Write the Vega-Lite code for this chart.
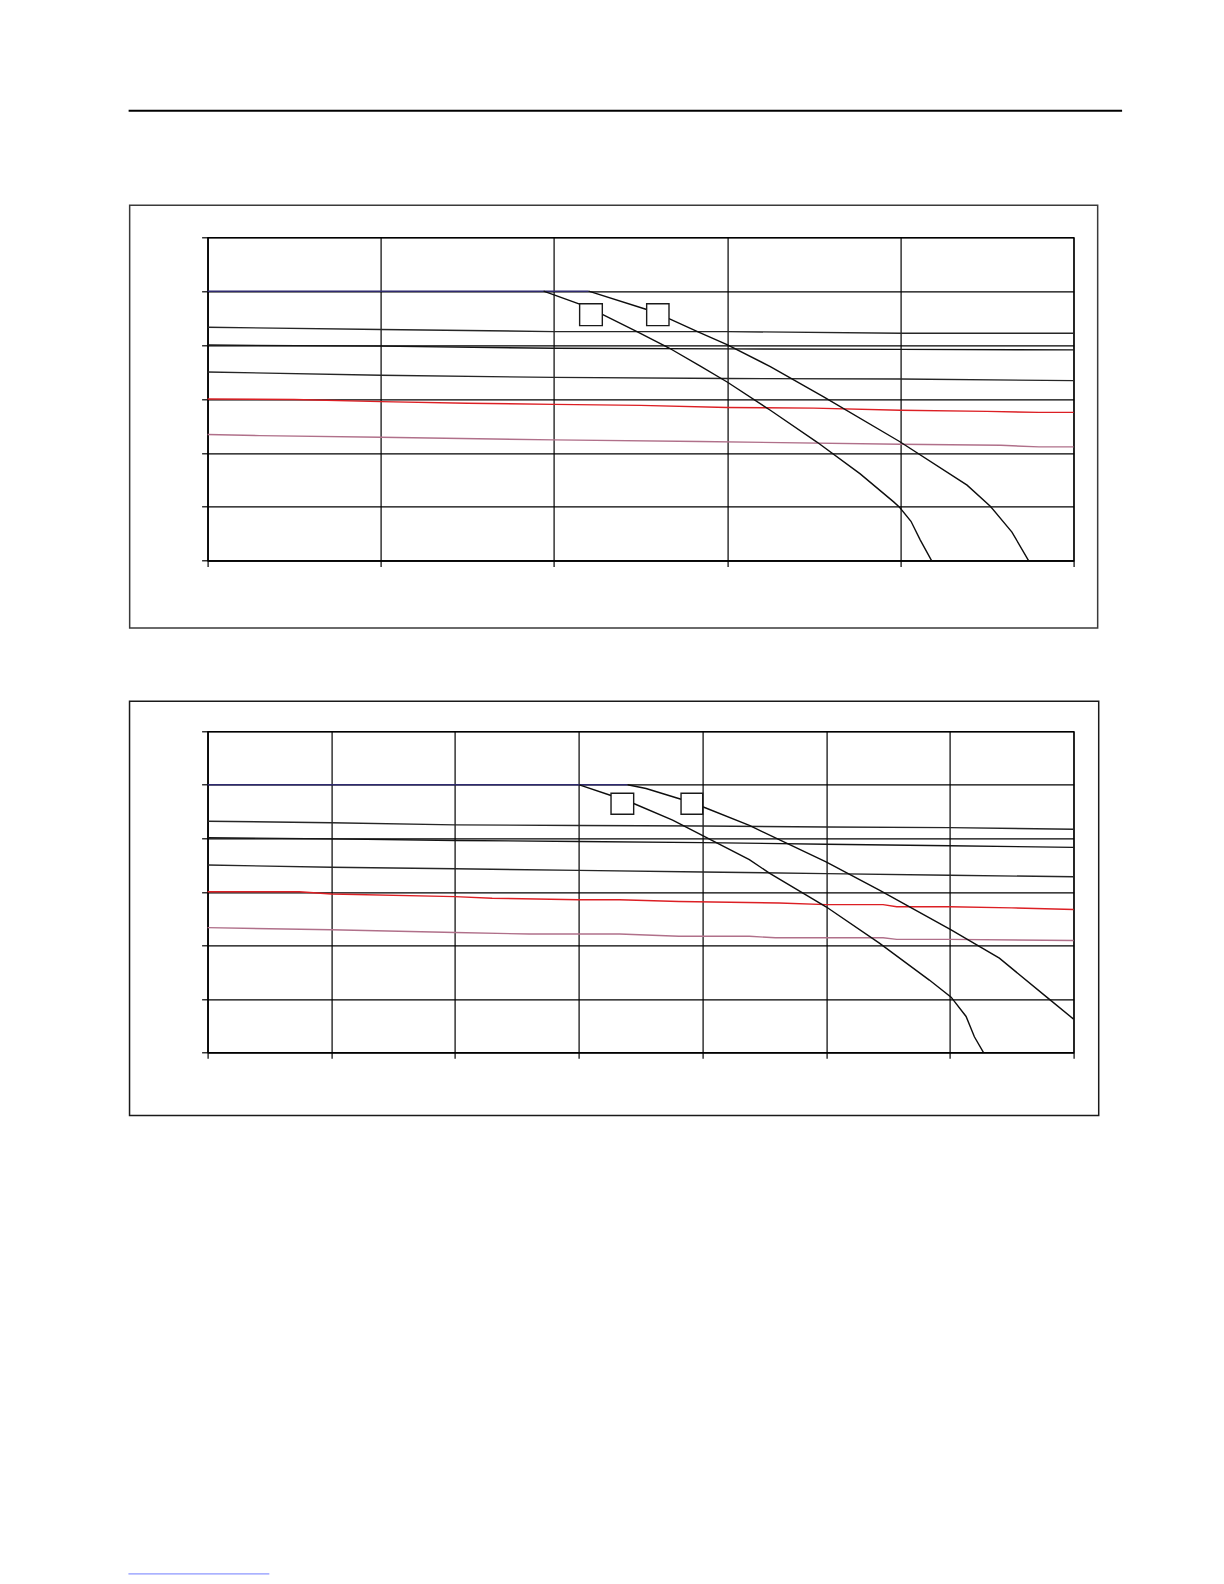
{
  "$schema": "https://vega.github.io/schema/vega-lite/v6.json",
  "background": "white",
  "padding": {"left": 126.6, "top": 108.3, "right": 0, "bottom": 0},
  "spacing": 69,
  "datasets": {
    "one": [{"k": 1}],
    "c1": [
      {"series": "L1", "x": 0, "y": 4.33}, {"series": "L1", "x": 1, "y": 4.29}, {"series": "L1", "x": 2, "y": 4.25}, {"series": "L1", "x": 3, "y": 4.25}, {"series": "L1", "x": 4, "y": 4.22}, {"series": "L1", "x": 5, "y": 4.22},
      {"series": "L2", "x": 0, "y": 4.0}, {"series": "L2", "x": 1, "y": 3.98}, {"series": "L2", "x": 2, "y": 3.94}, {"series": "L2", "x": 3, "y": 3.93}, {"series": "L2", "x": 4, "y": 3.92}, {"series": "L2", "x": 5, "y": 3.91},
      {"series": "L3", "x": 0, "y": 3.5}, {"series": "L3", "x": 1, "y": 3.44}, {"series": "L3", "x": 2, "y": 3.4}, {"series": "L3", "x": 3, "y": 3.38}, {"series": "L3", "x": 4, "y": 3.37}, {"series": "L3", "x": 5, "y": 3.34},
      {"series": "Red", "x": 0, "y": 3.0}, {"series": "Red", "x": 0.5, "y": 2.99}, {"series": "Red", "x": 1, "y": 2.95}, {"series": "Red", "x": 1.5, "y": 2.92}, {"series": "Red", "x": 2, "y": 2.9}, {"series": "Red", "x": 2.5, "y": 2.88}, {"series": "Red", "x": 3, "y": 2.84}, {"series": "Red", "x": 3.5, "y": 2.83}, {"series": "Red", "x": 4, "y": 2.79}, {"series": "Red", "x": 4.5, "y": 2.77}, {"series": "Red", "x": 4.8, "y": 2.75}, {"series": "Red", "x": 5, "y": 2.75},
      {"series": "Pink", "x": 0, "y": 2.34}, {"series": "Pink", "x": 0.3, "y": 2.32}, {"series": "Pink", "x": 1, "y": 2.29}, {"series": "Pink", "x": 2, "y": 2.24}, {"series": "Pink", "x": 2.84, "y": 2.21}, {"series": "Pink", "x": 4, "y": 2.16}, {"series": "Pink", "x": 4.58, "y": 2.14}, {"series": "Pink", "x": 4.8, "y": 2.11}, {"series": "Pink", "x": 5, "y": 2.11},
      {"series": "Cap", "x": 0, "y": 5.0}, {"series": "Cap", "x": 2.2, "y": 5.0},
      {"series": "A", "x": 1.94, "y": 5.0}, {"series": "A", "x": 2.148, "y": 4.76}, {"series": "A", "x": 2.279, "y": 4.57}, {"series": "A", "x": 2.479, "y": 4.25}, {"series": "A", "x": 2.662, "y": 3.95}, {"series": "A", "x": 2.845, "y": 3.61}, {"series": "A", "x": 3.002, "y": 3.31}, {"series": "A", "x": 3.249, "y": 2.79}, {"series": "A", "x": 3.518, "y": 2.2}, {"series": "A", "x": 3.768, "y": 1.61}, {"series": "A", "x": 3.961, "y": 1.09}, {"series": "A", "x": 3.995, "y": 0.99}, {"series": "A", "x": 4.061, "y": 0.73}, {"series": "A", "x": 4.115, "y": 0.38}, {"series": "A", "x": 4.18, "y": 0.0},
      {"series": "B", "x": 2.2, "y": 5.0}, {"series": "B", "x": 2.535, "y": 4.66}, {"series": "B", "x": 2.664, "y": 4.49}, {"series": "B", "x": 2.835, "y": 4.24}, {"series": "B", "x": 2.999, "y": 4.01}, {"series": "B", "x": 3.249, "y": 3.6}, {"series": "B", "x": 3.557, "y": 3.04}, {"series": "B", "x": 3.995, "y": 2.21}, {"series": "B", "x": 4.385, "y": 1.4}, {"series": "B", "x": 4.519, "y": 1.01}, {"series": "B", "x": 4.644, "y": 0.53}, {"series": "B", "x": 4.74, "y": 0.0}
    ],
    "c2": [
      {"series": "L1", "x": 0, "y": 4.32}, {"series": "L1", "x": 1, "y": 4.29}, {"series": "L1", "x": 2, "y": 4.25}, {"series": "L1", "x": 3, "y": 4.24}, {"series": "L1", "x": 4, "y": 4.23}, {"series": "L1", "x": 5, "y": 4.21}, {"series": "L1", "x": 6, "y": 4.2}, {"series": "L1", "x": 7, "y": 4.17},
      {"series": "L2", "x": 0, "y": 4.01}, {"series": "L2", "x": 1, "y": 3.99}, {"series": "L2", "x": 2, "y": 3.96}, {"series": "L2", "x": 3, "y": 3.94}, {"series": "L2", "x": 4, "y": 3.92}, {"series": "L2", "x": 5, "y": 3.89}, {"series": "L2", "x": 6, "y": 3.86}, {"series": "L2", "x": 7, "y": 3.83},
      {"series": "L3", "x": 0, "y": 3.5}, {"series": "L3", "x": 1, "y": 3.46}, {"series": "L3", "x": 2, "y": 3.43}, {"series": "L3", "x": 3, "y": 3.4}, {"series": "L3", "x": 4, "y": 3.37}, {"series": "L3", "x": 5, "y": 3.34}, {"series": "L3", "x": 6, "y": 3.31}, {"series": "L3", "x": 7, "y": 3.28},
      {"series": "Red", "x": 0, "y": 3.0}, {"series": "Red", "x": 0.74, "y": 3.0}, {"series": "Red", "x": 1, "y": 2.96}, {"series": "Red", "x": 2, "y": 2.91}, {"series": "Red", "x": 2.3, "y": 2.88}, {"series": "Red", "x": 3, "y": 2.85}, {"series": "Red", "x": 3.33, "y": 2.85}, {"series": "Red", "x": 3.81, "y": 2.82}, {"series": "Red", "x": 4.62, "y": 2.79}, {"series": "Red", "x": 5, "y": 2.76}, {"series": "Red", "x": 5.46, "y": 2.76}, {"series": "Red", "x": 5.57, "y": 2.72}, {"series": "Red", "x": 6, "y": 2.72}, {"series": "Red", "x": 6.5, "y": 2.7}, {"series": "Red", "x": 7, "y": 2.67},
      {"series": "Pink", "x": 0, "y": 2.33}, {"series": "Pink", "x": 1, "y": 2.29}, {"series": "Pink", "x": 2, "y": 2.24}, {"series": "Pink", "x": 2.6, "y": 2.21}, {"series": "Pink", "x": 3.33, "y": 2.21}, {"series": "Pink", "x": 3.81, "y": 2.17}, {"series": "Pink", "x": 4.38, "y": 2.17}, {"series": "Pink", "x": 4.59, "y": 2.14}, {"series": "Pink", "x": 5.46, "y": 2.14}, {"series": "Pink", "x": 5.57, "y": 2.11}, {"series": "Pink", "x": 6, "y": 2.11}, {"series": "Pink", "x": 7, "y": 2.09},
      {"series": "Cap", "x": 0, "y": 5.0}, {"series": "Cap", "x": 3.395, "y": 5.0},
      {"series": "A", "x": 3.005, "y": 5.0}, {"series": "A", "x": 3.261, "y": 4.8}, {"series": "A", "x": 3.444, "y": 4.65}, {"series": "A", "x": 3.759, "y": 4.34}, {"series": "A", "x": 4.01, "y": 4.04}, {"series": "A", "x": 4.379, "y": 3.6}, {"series": "A", "x": 4.541, "y": 3.35}, {"series": "A", "x": 4.999, "y": 2.72}, {"series": "A", "x": 5.43, "y": 2.04}, {"series": "A", "x": 5.834, "y": 1.35}, {"series": "A", "x": 6.01, "y": 1.03}, {"series": "A", "x": 6.131, "y": 0.67}, {"series": "A", "x": 6.198, "y": 0.29}, {"series": "A", "x": 6.271, "y": 0.0},
      {"series": "B", "x": 3.395, "y": 5.0}, {"series": "B", "x": 3.544, "y": 4.93}, {"series": "B", "x": 3.827, "y": 4.73}, {"series": "B", "x": 4.002, "y": 4.59}, {"series": "B", "x": 4.379, "y": 4.24}, {"series": "B", "x": 4.999, "y": 3.56}, {"series": "B", "x": 5.43, "y": 3.03}, {"series": "B", "x": 6.01, "y": 2.29}, {"series": "B", "x": 6.4, "y": 1.76}, {"series": "B", "x": 6.778, "y": 1.04}, {"series": "B", "x": 7.0, "y": 0.62}
    ],
    "b1": [
      {"label": "A", "x1": 2.148, "x2": 2.279, "y1": 4.36, "y2": 4.768},
      {"label": "B", "x1": 2.535, "x2": 2.664, "y1": 4.36, "y2": 4.768}
    ],
    "b2": [
      {"label": "A", "x1": 3.261, "x2": 3.444, "y1": 4.449, "y2": 4.841},
      {"label": "B", "x1": 3.827, "x2": 4.002, "y1": 4.449, "y2": 4.841}
    ]
  },
  "vconcat": [
    {
      "width": 866,
      "height": 323.3,
      "layer": [
        {
          "data": {"name": "c1"},
          "mark": {"type": "line", "strokeWidth": 1.4, "interpolate": "linear"},
          "encoding": {
            "x": {"field": "x", "type": "quantitative", "scale": {"domain": [0, 5], "nice": false, "zero": false}, "axis": {"values": [0, 1, 2, 3, 4, 5], "title": null}},
            "y": {"field": "y", "type": "quantitative", "scale": {"domain": [0, 6], "nice": false, "zero": false}, "axis": {"values": [0, 1, 2, 3, 4, 5, 6], "title": null}},
            "color": {"field": "series", "type": "nominal", "legend": null, "scale": {"domain": ["L1", "L2", "L3", "Red", "Pink", "Cap", "A", "B"], "range": ["#262626", "#141414", "#262626", "#dc1f24", "#b0708a", "#2e2a6e", "#0d0d0d", "#0d0d0d"]}},
            "detail": {"field": "series"}
          }
        },
        {
          "data": {"name": "one"},
          "mark": {"type": "rect", "filled": false, "stroke": "#3a3a3a", "strokeWidth": 1.5},
          "encoding": {
            "x": {"datum": -0.45, "type": "quantitative"},
            "x2": {"datum": 5.139},
            "y": {"datum": 6.597, "type": "quantitative"},
            "y2": {"datum": -1.25}
          }
        },
        {
          "data": {"name": "one"},
          "mark": {"type": "rule", "stroke": "#000000", "strokeWidth": 2},
          "encoding": {
            "x": {"datum": -0.456, "type": "quantitative"},
            "x2": {"datum": 5.28},
            "y": {"datum": 8.349, "type": "quantitative"}
          }
        },
        {
          "data": {"name": "b1"},
          "mark": {"type": "rect", "fill": "white", "stroke": "#1a1a1a", "strokeWidth": 1.4},
          "encoding": {
            "x": {"field": "x1", "type": "quantitative"},
            "x2": {"field": "x2"},
            "y": {"field": "y1", "type": "quantitative"},
            "y2": {"field": "y2"}
          }
        }
      ]
    },
    {
      "width": 866,
      "height": 321,
      "layer": [
        {
          "data": {"name": "c2"},
          "mark": {"type": "line", "strokeWidth": 1.4, "interpolate": "linear"},
          "encoding": {
            "x": {"field": "x", "type": "quantitative", "scale": {"domain": [0, 7], "nice": false, "zero": false}, "axis": {"values": [0, 1, 2, 3, 4, 5, 6, 7], "title": null}},
            "y": {"field": "y", "type": "quantitative", "scale": {"domain": [0, 6], "nice": false, "zero": false}, "axis": {"values": [0, 1, 2, 3, 4, 5, 6], "title": null}},
            "color": {"field": "series", "type": "nominal", "legend": null, "scale": {"domain": ["L1", "L2", "L3", "Red", "Pink", "Cap", "A", "B"], "range": ["#262626", "#141414", "#262626", "#dc1f24", "#b0708a", "#2e2a6e", "#0d0d0d", "#0d0d0d"]}},
            "detail": {"field": "series"}
          }
        },
        {
          "data": {"name": "one"},
          "mark": {"type": "rect", "filled": false, "stroke": "#1a1a1a", "strokeWidth": 1.5},
          "encoding": {
            "x": {"datum": -0.631, "type": "quantitative"},
            "x2": {"datum": 7.203},
            "y": {"datum": 6.561, "type": "quantitative"},
            "y2": {"datum": -1.18}
          }
        },
        {
          "data": {"name": "one"},
          "mark": {"type": "rule", "stroke": "#4a5cff", "strokeWidth": 1, "opacity": 0.8},
          "encoding": {
            "x": {"datum": -0.64, "type": "quantitative"},
            "x2": {"datum": 0.499},
            "y": {"datum": -9.75, "type": "quantitative"}
          }
        },
        {
          "data": {"name": "b2"},
          "mark": {"type": "rect", "fill": "white", "stroke": "#1a1a1a", "strokeWidth": 1.4},
          "encoding": {
            "x": {"field": "x1", "type": "quantitative"},
            "x2": {"field": "x2"},
            "y": {"field": "y1", "type": "quantitative"},
            "y2": {"field": "y2"}
          }
        }
      ]
    }
  ],
  "config": {
    "view": {"stroke": "#000000", "strokeWidth": 1.2},
    "axis": {
      "labels": false,
      "ticks": true,
      "tickSize": 6,
      "tickColor": "#000000",
      "tickWidth": 1.2,
      "domain": true,
      "domainColor": "#000000",
      "domainWidth": 1.2,
      "grid": true,
      "gridColor": "#000000",
      "gridOpacity": 1,
      "gridWidth": 1.2
    }
  }
}
